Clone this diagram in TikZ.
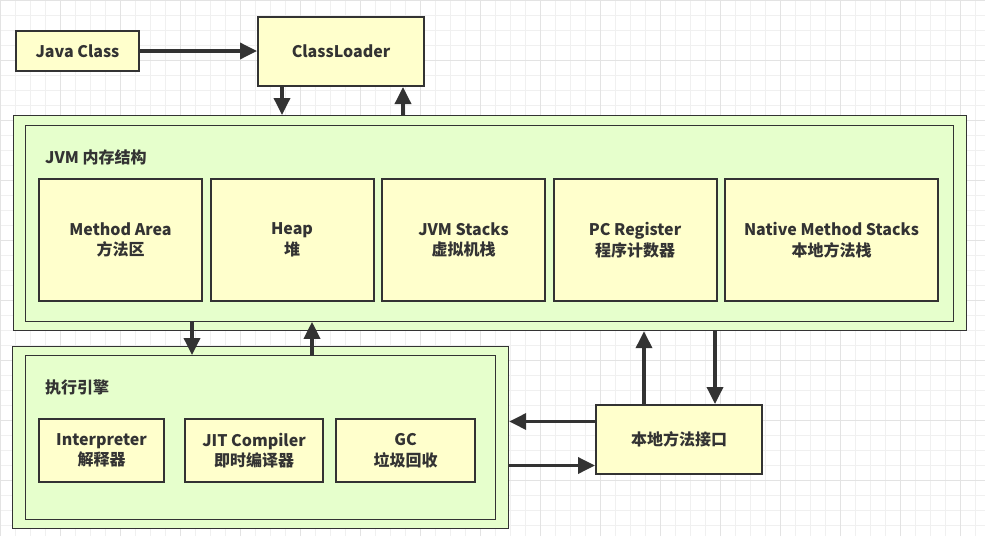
\documentclass[tikz,border=0pt]{standalone}
\usepackage{fontspec}
\setmainfont{Noto Sans CJK SC}
\usetikzlibrary{positioning,arrows.meta}
\definecolor{boxyellow}{HTML}{FFFFCC}
\definecolor{areagreen}{HTML}{E6FFCC}
\definecolor{edgegray}{HTML}{333333}
\tikzstyle{unitbox} = [draw=edgegray, fill=boxyellow, line width=2pt,
    rectangle, align=center, inner sep=0pt, text=edgegray,
    font=\bfseries\fontsize{16}{20.5}\selectfont]
\tikzstyle{areabox} = [draw=edgegray, fill=areagreen, line width=1.2pt,
    rectangle, inner sep=0pt]
\tikzstyle{areatitle} = [anchor=west, inner sep=0pt, text=edgegray,
    font=\bfseries\fontsize{16}{20.5}\selectfont]
\tikzstyle{flow} = [draw=edgegray, line width=3.5pt,
    -{Triangle[length=17pt,width=16pt]}]

\begin{document}
\begin{tikzpicture}[x=1pt,y=-1pt]

\fill[white] (0,0) rectangle (985,536);
\useasboundingbox (0,0) rectangle (985,536);
\draw[gray!12, step=15pt] (0,0) grid (985,536);
\draw[gray!22, step=60pt] (0,0) grid (985,536);

\node [unitbox, anchor=north west, minimum width=123pt, minimum height=40pt] (java) at (15,30) {Java Class};
\node [unitbox, anchor=north west, minimum width=166pt, minimum height=69pt] (loader) at (257,16) {ClassLoader};

% JVM memory area
\node [areabox, anchor=north west, minimum width=953pt, minimum height=215pt] (jvm) at (13,115) {};
\node [areabox, anchor=north west, minimum width=928pt, minimum height=196pt, line width=0.8pt] (jvmin) at (25,125) {};
\node [areatitle] (jvmtitle) at (45,157) {JVM 内存结构};

\node [unitbox, anchor=north west, minimum width=163pt, minimum height=122pt] (method) at (38,178) {Method Area\\方法区};
\node [unitbox, right=6.5pt of method, minimum width=163pt, minimum height=122pt] (heap) {Heap\\堆};
\node [unitbox, right=6.5pt of heap, minimum width=163pt, minimum height=122pt] (stacks) {JVM Stacks\\虚拟机栈};
\node [unitbox, right=6.5pt of stacks, minimum width=163pt, minimum height=122pt] (pc) {PC Register\\程序计数器};
\node [unitbox, right=6.5pt of pc, minimum width=213pt, minimum height=122pt] (nstacks) {Native Method Stacks\\本地方法栈};

% execution engine
\node [areabox, anchor=north west, minimum width=496pt, minimum height=182pt] (exec) at (12,346) {};
\node [areabox, anchor=north west, minimum width=470pt, minimum height=164pt, line width=0.8pt] (execin) at (25,355) {};
\node [areatitle] (exectitle) at (45,387) {执行引擎};

\node [unitbox, anchor=north west, minimum width=125pt, minimum height=63pt] (interp) at (38,418) {Interpreter\\解释器};
\node [unitbox, anchor=north west, minimum width=138pt, minimum height=63pt] (jit) at (184,418) {JIT Compiler\\即时编译器};
\node [unitbox, anchor=north west, minimum width=139pt, minimum height=63pt] (gc) at (335,418) {GC\\垃圾回收};

\node [unitbox, anchor=north west, minimum width=166pt, minimum height=69pt] (native) at (595,404) {本地方法接口};

\draw [flow] (java.east) -- (java.east -| loader.west);
\draw [flow] ([xshift=-59pt]loader.south) -- ([xshift=-59pt]loader.south |- jvm.north);
\draw [flow] ([xshift=62pt]loader.south |- jvm.north) -- ([xshift=62pt]loader.south);

\draw [flow] ([xshift=167pt]execin.north west |- jvmin.south) -- ([xshift=167pt]execin.north west);
\draw [flow] ([xshift=287pt]execin.north west) -- ([xshift=287pt]execin.north west |- jvmin.south);

\draw [flow] ([xshift=-35pt]native.north) -- ([xshift=-35pt]native.north |- jvm.south);
\draw [flow] ([xshift=36pt]native.north |- jvm.south) -- ([xshift=36pt]native.north);
\draw [flow] ([yshift=18pt]native.west) -- ([yshift=18pt]native.west -| exec.east);
\draw [flow] ([yshift=-26pt]native.west -| exec.east) -- ([yshift=-26pt]native.west);

\end{tikzpicture}
\end{document}
